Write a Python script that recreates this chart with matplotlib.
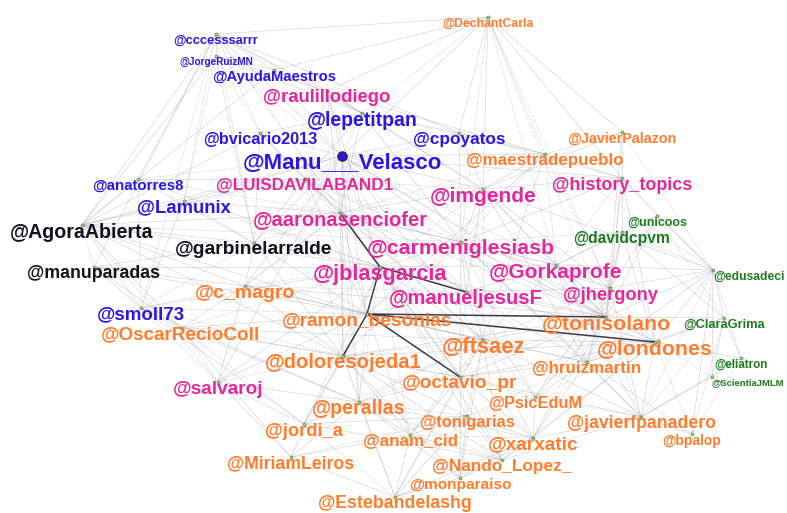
import matplotlib
matplotlib.use("Agg")
import matplotlib.pyplot as plt

# nodos: centro de la etiqueta en px de la imagen de referencia, ancho de etiqueta (px) y comunidad
handles = ["cccesssarrr", "JorgeRuizMN", "AyudaMaestros", "raulillodiego", "lepetitpan",
           "bvicario2013", "Manu___Velasco", "cpoyatos", "DechantCarla", "JavierPalazon",
           "maestradepueblo", "anatorres8", "LUISDAVILABAND1", "Lamunix", "AgoraAbierta",
           "aaronasenciofer", "garbinelarralde", "manuparadas", "c_magro", "smoll73",
           "OscarRecioColl", "ramon_besonias", "jblasgarcia", "carmeniglesiasb", "doloresojeda1",
           "imgende", "history_topics", "unicoos", "davidcpvm", "edusadeci",
           "Gorkaprofe", "manueljesusF", "jhergony", "tonisolano", "ClaraGrima",
           "ftsaez", "londones", "eliatron", "ScientiaJMLM", "hruizmartin",
           "octavio_pr", "PsicEduM", "tonigarias", "javierfpanadero", "bpalop",
           "anam_cid", "xarxatic", "Nando_Lopez_", "monparaiso", "Estebandelashg",
           "salvaroj", "perallas", "jordi_a", "MiriamLeiros"]
node_x = [216, 216, 274, 327, 362, 260, 342, 459, 488, 622,
          545, 138, 305, 184, 82, 340, 254, 94, 245, 141,
          181, 367, 380, 461, 343, 483, 622, 657, 622, 713,
          556, 466, 610, 606, 724, 483, 655, 741, 712, 587,
          460, 535, 467, 641, 692, 410, 533, 502, 460, 395,
          218, 359, 304, 291]
node_y = [39, 61, 75, 96, 118, 138, 161, 138, 22, 137,
          159, 184, 184, 206, 230, 218, 248, 272, 291, 313,
          333, 319, 272, 247, 361, 194, 183, 221, 237, 275,
          270, 297, 293, 322, 323, 345, 347, 363, 382, 367,
          382, 402, 421, 422, 439, 440, 443, 465, 483, 502,
          387, 407, 429, 462]
label_w = [85, 73, 123, 128, 111, 114, 199, 92, 91, 109,
           157, 91, 176, 94, 143, 175, 158, 132, 100, 88,
           158, 170, 134, 187, 157, 107, 139, 59, 97, 71,
           133, 154, 95, 128, 82, 83, 115, 53, 72, 109,
           115, 94, 95, 148, 59, 95, 90, 139, 102, 154,
           90, 93, 78, 127]
group = ["azul", "azul", "azul", "rosa", "azul", "azul", "azul", "azul", "naranja", "naranja",
         "naranja", "azul", "rosa", "azul", "negro", "rosa", "negro", "negro", "naranja", "azul",
         "naranja", "naranja", "rosa", "rosa", "naranja", "rosa", "rosa", "verde", "verde", "verde",
         "rosa", "rosa", "rosa", "naranja", "verde", "naranja", "naranja", "verde", "verde", "naranja",
         "naranja", "naranja", "naranja", "naranja", "naranja", "naranja", "naranja", "naranja", "naranja", "naranja",
         "rosa", "naranja", "naranja", "naranja"]
left_aligned = ["edusadeci", "ScientiaJMLM"]   # etiquetas pegadas al borde derecho

# aristas: (origen, destinos)
edges = [
    ("Manu___Velasco", ["lepetitpan", "cpoyatos", "bvicario2013", "AyudaMaestros", "raulillodiego",
                        "LUISDAVILABAND1", "aaronasenciofer", "imgende", "carmeniglesiasb", "jblasgarcia",
                        "maestradepueblo", "Lamunix", "anatorres8", "AgoraAbierta", "garbinelarralde",
                        "Gorkaprofe", "tonisolano", "ftsaez", "londones", "doloresojeda1", "ramon_besonias",
                        "manueljesusF", "history_topics", "c_magro", "octavio_pr", "perallas", "salvaroj"]),
    ("jblasgarcia", ["carmeniglesiasb", "doloresojeda1", "imgende", "Gorkaprofe",
                     "tonisolano", "londones", "ftsaez", "garbinelarralde", "c_magro",
                     "LUISDAVILABAND1", "octavio_pr", "perallas", "jordi_a", "salvaroj", "OscarRecioColl",
                     "smoll73", "manuparadas", "Lamunix", "anatorres8", "raulillodiego", "xarxatic",
                     "Nando_Lopez_", "tonigarias", "anam_cid"]),
    ("carmeniglesiasb", ["imgende", "Gorkaprofe", "manueljesusF", "tonisolano", "londones", "ftsaez",
                         "history_topics", "maestradepueblo", "jhergony", "aaronasenciofer", "ramon_besonias",
                         "doloresojeda1", "octavio_pr", "davidcpvm", "hruizmartin", "javierfpanadero",
                         "PsicEduM", "cpoyatos", "lepetitpan", "DechantCarla"]),
    ("tonisolano", ["londones", "ftsaez", "Gorkaprofe", "jhergony", "imgende",
                    "hruizmartin", "javierfpanadero", "ClaraGrima", "davidcpvm", "history_topics",
                    "octavio_pr", "doloresojeda1", "xarxatic", "PsicEduM", "edusadeci", "DechantCarla",
                    "JavierPalazon", "unicoos", "perallas", "c_magro"]),
    ("londones", ["ftsaez", "Gorkaprofe", "jhergony", "hruizmartin", "javierfpanadero", "bpalop",
                  "ClaraGrima", "eliatron", "ScientiaJMLM", "edusadeci", "octavio_pr", "xarxatic",
                  "Nando_Lopez_", "doloresojeda1", "PsicEduM", "history_topics", "davidcpvm", "manueljesusF"]),
    ("ftsaez", ["octavio_pr", "doloresojeda1", "ramon_besonias", "perallas", "tonigarias", "anam_cid",
                "xarxatic", "PsicEduM", "Nando_Lopez_", "monparaiso", "hruizmartin", "javierfpanadero",
                "manueljesusF", "imgende", "Gorkaprofe", "Estebandelashg", "jordi_a", "c_magro"]),
    ("doloresojeda1", ["perallas", "octavio_pr", "jordi_a", "MiriamLeiros", "anam_cid", "tonigarias",
                       "salvaroj", "OscarRecioColl", "c_magro", "Estebandelashg", "monparaiso",
                       "Nando_Lopez_", "smoll73", "AgoraAbierta", "garbinelarralde"]),
    ("ramon_besonias", ["c_magro", "manueljesusF", "perallas", "OscarRecioColl",
                        "garbinelarralde", "smoll73", "manuparadas", "salvaroj", "jordi_a", "anam_cid",
                        "hruizmartin"]),
    ("perallas", ["octavio_pr", "jordi_a", "MiriamLeiros", "anam_cid", "tonigarias", "Estebandelashg",
                  "xarxatic", "Nando_Lopez_", "monparaiso", "salvaroj"]),
    ("octavio_pr", ["tonigarias", "anam_cid", "xarxatic", "PsicEduM", "Nando_Lopez_", "monparaiso",
                    "Estebandelashg", "hruizmartin", "javierfpanadero"]),
    ("javierfpanadero", ["bpalop", "xarxatic", "PsicEduM", "hruizmartin", "Nando_Lopez_", "edusadeci",
                         "eliatron", "ScientiaJMLM", "ClaraGrima", "jhergony", "Gorkaprofe"]),
    ("Estebandelashg", ["MiriamLeiros", "jordi_a", "monparaiso", "anam_cid", "Nando_Lopez_", "xarxatic",
                        "tonigarias"]),
    ("DechantCarla", ["maestradepueblo", "imgende", "history_topics", "Gorkaprofe", "JavierPalazon",
                      "cpoyatos", "lepetitpan", "raulillodiego", "cccesssarrr", "jhergony", "AyudaMaestros",
                      "Manu___Velasco"]),
    ("cccesssarrr", ["JorgeRuizMN", "AyudaMaestros", "bvicario2013", "lepetitpan", "anatorres8", "Lamunix",
                     "AgoraAbierta", "manuparadas", "garbinelarralde", "raulillodiego", "cpoyatos", "smoll73",
                     "Manu___Velasco", "jblasgarcia"]),
    ("JorgeRuizMN", ["AyudaMaestros", "bvicario2013", "lepetitpan", "AgoraAbierta", "Lamunix",
                     "garbinelarralde", "raulillodiego", "Manu___Velasco"]),
    ("AgoraAbierta", ["anatorres8", "Lamunix", "garbinelarralde", "manuparadas", "smoll73", "aaronasenciofer",
                      "LUISDAVILABAND1", "c_magro", "OscarRecioColl", "salvaroj", "bvicario2013",
                      "AyudaMaestros", "carmeniglesiasb", "ramon_besonias", "jblasgarcia"]),
    ("edusadeci", ["history_topics", "unicoos", "davidcpvm", "Gorkaprofe", "ClaraGrima", "eliatron",
                   "ScientiaJMLM", "bpalop", "JavierPalazon", "jhergony", "imgende", "maestradepueblo",
                   "hruizmartin"]),
    ("history_topics", ["imgende", "Gorkaprofe", "maestradepueblo", "JavierPalazon", "unicoos", "davidcpvm",
                        "jhergony", "cpoyatos"]),
    ("Gorkaprofe", ["imgende", "jhergony", "manueljesusF", "davidcpvm", "unicoos", "hruizmartin",
                    "maestradepueblo"]),
    ("manueljesusF", ["imgende", "aaronasenciofer", "octavio_pr", "PsicEduM", "hruizmartin", "c_magro",
                      "tonisolano"]),
    ("imgende", ["aaronasenciofer", "LUISDAVILABAND1", "maestradepueblo", "cpoyatos", "lepetitpan",
                 "raulillodiego", "JavierPalazon"]),
    ("lepetitpan", ["raulillodiego", "cpoyatos", "bvicario2013", "AyudaMaestros", "LUISDAVILABAND1",
                    "aaronasenciofer", "maestradepueblo"]),
    ("aaronasenciofer", ["LUISDAVILABAND1", "Lamunix", "anatorres8", "bvicario2013", "raulillodiego",
                         "c_magro", "ramon_besonias", "doloresojeda1", "ftsaez", "Gorkaprofe", "tonisolano",
                         "perallas", "octavio_pr"]),
    ("LUISDAVILABAND1", ["bvicario2013", "raulillodiego", "Lamunix", "anatorres8", "carmeniglesiasb",
                         "ramon_besonias", "manueljesusF", "doloresojeda1", "ftsaez", "tonisolano", "cpoyatos"]),
    ("garbinelarralde", ["Lamunix", "manuparadas", "anatorres8", "aaronasenciofer", "LUISDAVILABAND1",
                         "c_magro", "smoll73", "bvicario2013"]),
    ("hruizmartin", ["PsicEduM", "xarxatic", "tonigarias", "jhergony", "imgende", "davidcpvm", "bpalop"]),
    ("jhergony", ["imgende", "maestradepueblo", "manueljesusF", "PsicEduM", "xarxatic", "davidcpvm",
                  "unicoos", "ftsaez"]),
    ("maestradepueblo", ["cpoyatos", "JavierPalazon", "raulillodiego", "aaronasenciofer", "ramon_besonias",
                         "ftsaez"]),
    ("OscarRecioColl", ["smoll73", "manuparadas", "jordi_a", "MiriamLeiros", "perallas", "octavio_pr",
                        "ftsaez"]),
    ("c_magro", ["OscarRecioColl", "smoll73", "manuparadas", "salvaroj", "aaronasenciofer"]),
    ("salvaroj", ["OscarRecioColl", "jordi_a", "MiriamLeiros", "smoll73"]),
    ("smoll73", ["manuparadas", "Lamunix", "anatorres8", "perallas", "jordi_a"]),
    ("tonigarias", ["anam_cid", "PsicEduM", "monparaiso", "jordi_a", "MiriamLeiros"]),
    ("MiriamLeiros", ["jordi_a", "anam_cid"]),
    ("ClaraGrima", ["eliatron", "ScientiaJMLM", "bpalop", "davidcpvm", "hruizmartin", "unicoos"]),
    ("eliatron", ["ScientiaJMLM", "bpalop"]),
    ("xarxatic", ["Nando_Lopez_", "PsicEduM", "tonigarias", "anam_cid", "monparaiso"]),
    ("Nando_Lopez_", ["monparaiso", "anam_cid", "tonigarias", "jordi_a"]),
]
# aristas de mayor peso (oscuras)
strong_edges = [("jblasgarcia", "ramon_besonias"), ("ramon_besonias", "doloresojeda1"),
                ("ramon_besonias", "tonisolano"), ("ramon_besonias", "londones"),
                ("jblasgarcia", "manueljesusF"), ("jblasgarcia", "aaronasenciofer"),
                ("ramon_besonias", "octavio_pr")]

colores = {"azul": "#2a16e6", "rosa": "#e6279c", "naranja": "#ff7d2c",
           "verde": "#1e7a1e", "negro": "#12121e"}

idx = {h: i for i, h in enumerate(handles)}
# el nodo queda un poco por encima del centro visual de la etiqueta
nx = node_x
ny = [v - 5 for v in node_y]

fig = plt.figure(figsize=(7.87, 5.13), dpi=100, facecolor="white")
ax = fig.add_axes([0, 0, 1, 1])
ax.set_xlim(0, 787)
ax.set_ylim(513, 0)
ax.axis("off")

for i, (src, dsts) in enumerate(edges):
    a = idx[src]
    for j, dst in enumerate(dsts):
        b = idx[dst]
        ls = "--" if (i + j) % 3 == 0 else "-"
        ax.plot([nx[a], nx[b]], [ny[a], ny[b]], color="#8a8a9a", lw=0.45,
                alpha=0.38, ls=ls, zorder=1)
for s, d in strong_edges:
    a, b = idx[s], idx[d]
    ax.plot([nx[a], nx[b]], [ny[a], ny[b]], color="#1a1a2a", lw=1.1, alpha=0.85, zorder=2)

ax.scatter(nx, ny, s=5, color="#9be060", edgecolor="#444444", lw=0.3, zorder=3)
m = idx["Manu___Velasco"]
ax.scatter([nx[m]], [ny[m]], s=45, color="#2a16e6", edgecolor="#222222", lw=0.8, zorder=4)

renderer = fig.canvas.get_renderer()
for i, h in enumerate(handles):
    left = h in left_aligned
    t = ax.text(node_x[i], node_y[i], "@" + h, ha="left" if left else "center",
                va="center_baseline", fontsize=10, fontweight="bold",
                family="Liberation Sans", color=colores[group[i]], zorder=5)
    w = t.get_window_extent(renderer).width
    t.set_fontsize(10 * label_w[i] / w)

fig.savefig("out.png", dpi=100, facecolor="white")
